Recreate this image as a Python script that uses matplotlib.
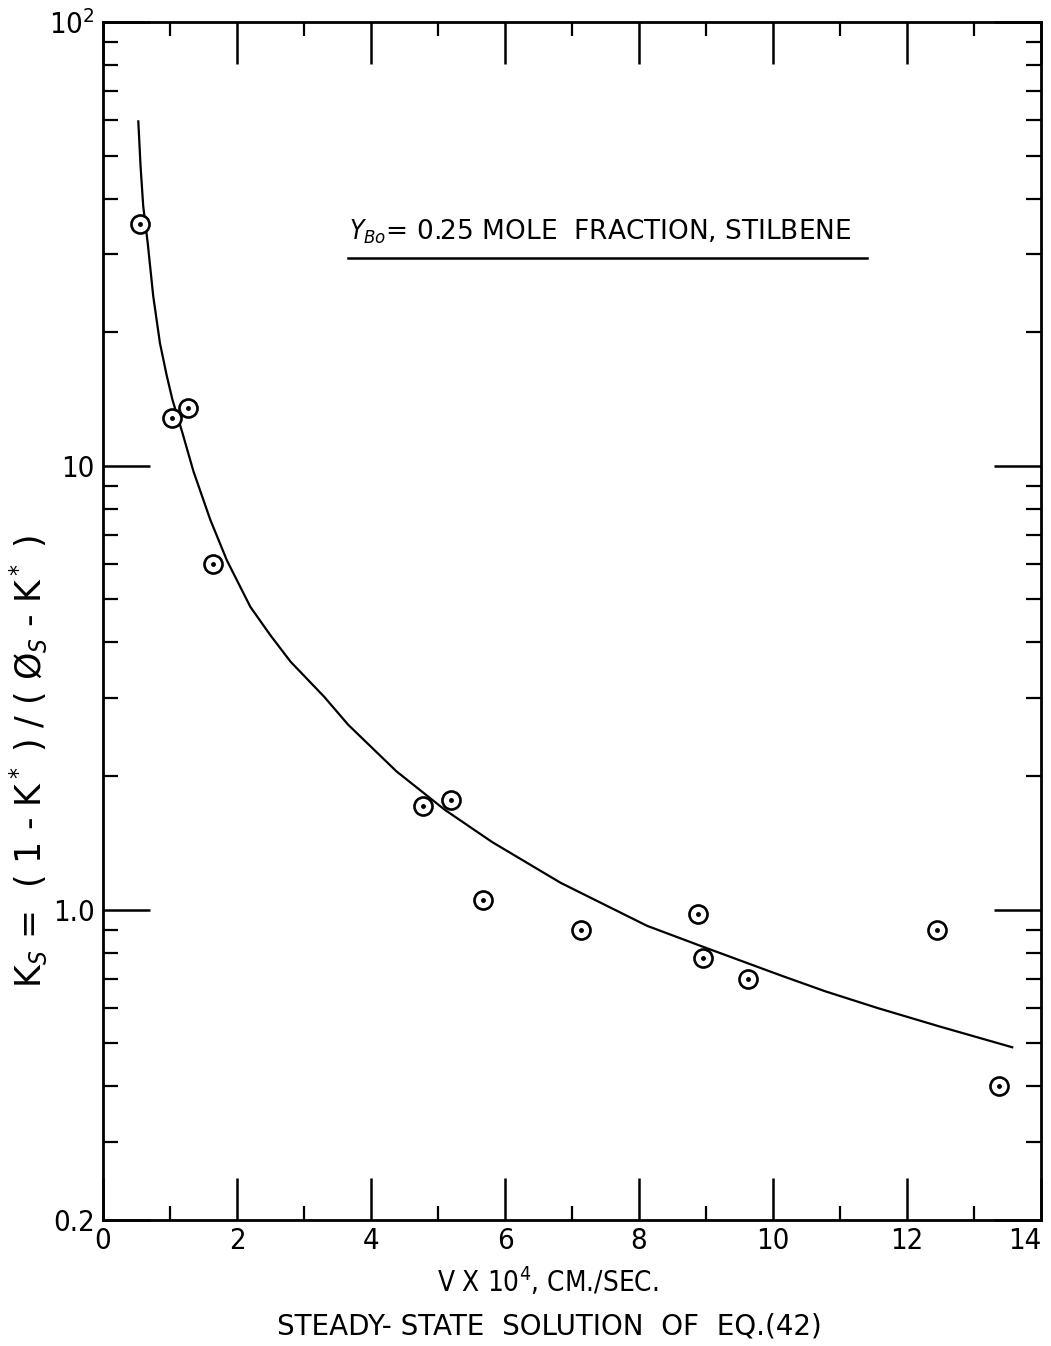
import matplotlib
matplotlib.use('Agg')
import matplotlib.pyplot as plt
from matplotlib.ticker import FixedLocator, NullFormatter

# measured points, V x 10^4 (cm/sec) vs K_S
v_data = [0.55, 1.03, 1.27, 1.64, 4.77, 5.20, 5.67, 7.13, 8.88, 8.95, 9.63, 12.45, 13.38]
ks_data = [35.0, 12.8, 13.5, 6.0, 1.71, 1.77, 1.05, 0.90, 0.98, 0.78, 0.70, 0.90, 0.40]

# steady-state solution curve
v_curve = [0.527, 0.56, 0.60, 0.667, 0.75, 0.85, 0.95, 1.036, 1.19, 1.35, 1.60, 1.85,
           2.20, 2.50, 2.80, 3.30, 3.66, 4.38, 5.10, 5.81, 6.83, 8.12, 8.91, 10.13,
           10.78, 11.57, 12.50, 13.57]
ks_curve = [59.7, 47.5, 38.5, 31.8, 24.1, 18.9, 16.0, 14.1, 11.8, 9.72, 7.57, 6.12,
            4.81, 4.15, 3.62, 3.02, 2.61, 2.05, 1.68, 1.42, 1.15, 0.92, 0.83, 0.71,
            0.655, 0.60, 0.545, 0.49]

x_major = [0, 2, 4, 6, 8, 10, 12, 14]
x_minor = [1, 3, 5, 7, 9, 11, 13]
y_major = [0.2, 1.0, 10, 100]
y_major_labels = ['0.2', '1.0', '10', '$10^2$']
y_minor = [0.3, 0.4, 0.5, 0.6, 0.7, 0.8, 0.9, 2, 3, 4, 5, 6, 7, 8, 9,
           20, 30, 40, 50, 60, 70, 80, 90]

plt.rcParams['font.family'] = ['DejaVu Sans']
plt.rcParams['font.stretch'] = 'condensed'

fig = plt.figure(figsize=(10.51, 13.46), dpi=100)
ax = fig.add_axes([0.098, 0.0936, 0.8925, 0.8901])

ax.plot(v_curve, ks_curve, color='black', lw=1.6, zorder=2)
ax.plot(v_data, ks_data, linestyle='none', marker='o', markersize=13,
        markerfacecolor='white', markeredgecolor='black', markeredgewidth=1.9, zorder=3)
ax.plot(v_data, ks_data, linestyle='none', marker='o', markersize=2.5,
        color='black', zorder=4)

ax.set_yscale('log')
ax.set_xlim(0, 14)
ax.set_ylim(0.2, 100)

ax.xaxis.set_major_locator(FixedLocator(x_major))
ax.xaxis.set_minor_locator(FixedLocator(x_minor))
ax.set_xticklabels([str(v) for v in x_major])
ax.yaxis.set_major_locator(FixedLocator(y_major))
ax.yaxis.set_minor_locator(FixedLocator(y_minor))
ax.set_yticklabels(y_major_labels)
ax.yaxis.set_minor_formatter(NullFormatter())

ax.tick_params(axis='x', which='major', direction='in', length=30, width=1.8,
               top=True, labelsize=21, pad=5)
ax.tick_params(axis='x', which='minor', direction='in', length=10, width=1.6, top=True)
ax.tick_params(axis='y', which='major', direction='in', length=34, width=1.8,
               right=True, labelsize=21, pad=6)
ax.tick_params(axis='y', which='minor', direction='in', length=11, width=1.6, right=True)
# last x label sits at the figure edge
ax.get_xticklabels()[-1].set_horizontalalignment('right')

for s in ax.spines.values():
    s.set_linewidth(2)

# note with underline
ax.text(0.53, 0.825, '$Y_{Bo}$= 0.25 MOLE  FRACTION, STILBENE', transform=ax.transAxes,
        ha='center', va='center', fontsize=19, fontstretch='normal')
ax.plot([0.261, 0.815], [0.803, 0.803], transform=ax.transAxes, color='black', lw=1.8)

ax.set_xlabel('V X 10$^4$, CM./SEC.', fontsize=20, labelpad=6)
ax.xaxis.set_label_coords(0.474, -0.038)
fig.text(0.027, 1 - 762 / 1346, 'K$_S$ =  ( 1 - K$^*$ ) / ( Ø$_S$ - K$^*$ )', rotation=90,
         ha='center', va='center', fontsize=25, fontstretch='normal')
fig.text(0.523, 1 - 1326 / 1346, 'STEADY- STATE  SOLUTION  OF  EQ.(42)',
         ha='center', va='center', fontsize=20, fontstretch='normal')

plt.savefig('out.png', dpi=100, facecolor='white')
plt.close()
